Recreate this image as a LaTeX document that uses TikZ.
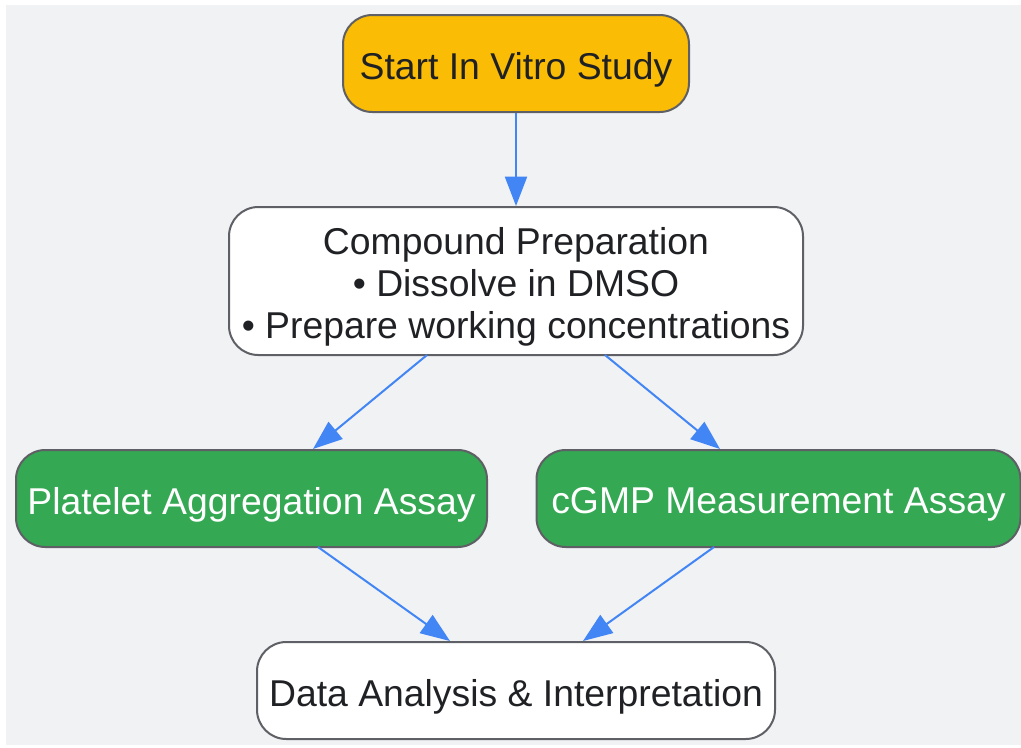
\documentclass[tikz,border=0pt]{standalone}
\usepackage{fontspec}
\setmainfont{Liberation Sans}
\usetikzlibrary{arrows.meta}
\definecolor{bgc}{HTML}{F1F2F4}
\definecolor{yel}{HTML}{FBBC05}
\definecolor{grn}{HTML}{34A853}
\definecolor{blu}{HTML}{4285F4}
\definecolor{bord}{HTML}{5F6065}
\definecolor{txt}{HTML}{202124}
\tikzset{
  box/.style={draw=bord, line width=1.5pt, rounded corners=22pt, inner sep=0pt},
  yellowbox/.style={box, fill=yel},
  greenbox/.style={box, fill=grn},
  whitebox/.style={box, fill=white},
  lab/.style={align=center, inner sep=0pt, font=\fontsize{28}{31.5}\selectfont, text=txt},
  wlab/.style={lab, text=white},
  arr/.style={draw=blu, line width=1.5pt, -{Triangle[length=22pt, width=16.5pt]}}
}
\begin{document}
\begin{tikzpicture}[x=0.75pt, y=-0.75pt]
\useasboundingbox (0,0) rectangle (1021,747);
\fill[bgc] (6,5) rectangle (1021,745);
\node[yellowbox, minimum width=346*0.75pt, minimum height=97*0.75pt] (start) at (516,63.5) {};
\node[whitebox, minimum width=574*0.75pt, minimum height=148*0.75pt] (prep) at (516,281) {};
\node[greenbox, minimum width=471*0.75pt, minimum height=97*0.75pt] (plat) at (251.5,498.5) {};
\node[greenbox, minimum width=484*0.75pt, minimum height=97*0.75pt] (cgmp) at (778.5,498.5) {};
\node[whitebox, minimum width=518*0.75pt, minimum height=97*0.75pt] (data) at (516,690.5) {};
\node[lab] (startt) at ([yshift=-4.5pt]start.center) {Start In Vitro Study};
\node[lab] (prept) at ([yshift=-4.5pt]prep.center) {Compound Preparation\\• Dissolve in DMSO\\• Prepare working concentrations};
\node[wlab] (platt) at ([yshift=-4.5pt]plat.center) {Platelet Aggregation Assay};
\node[wlab] (cgmpt) at ([yshift=-4.5pt]cgmp.center) {cGMP Measurement Assay};
\node[lab] (datat) at ([yshift=-4.5pt]data.center) {Data Analysis \& Interpretation};
\coordinate (p1) at (427,355);
\coordinate (p2) at (605,355);
\coordinate (q1) at (318,547);
\coordinate (q2) at (714,547);
\draw[arr] (start.south) -- (prep.north);
\draw[arr] (p1) -- (plat.north -| 313,0);
\draw[arr] (p2) -- (cgmp.north -| 720,0);
\draw[arr] (q1) -- (data.north -| 450,0);
\draw[arr] (q2) -- (data.north -| 583,0);
\end{tikzpicture}
\end{document}
